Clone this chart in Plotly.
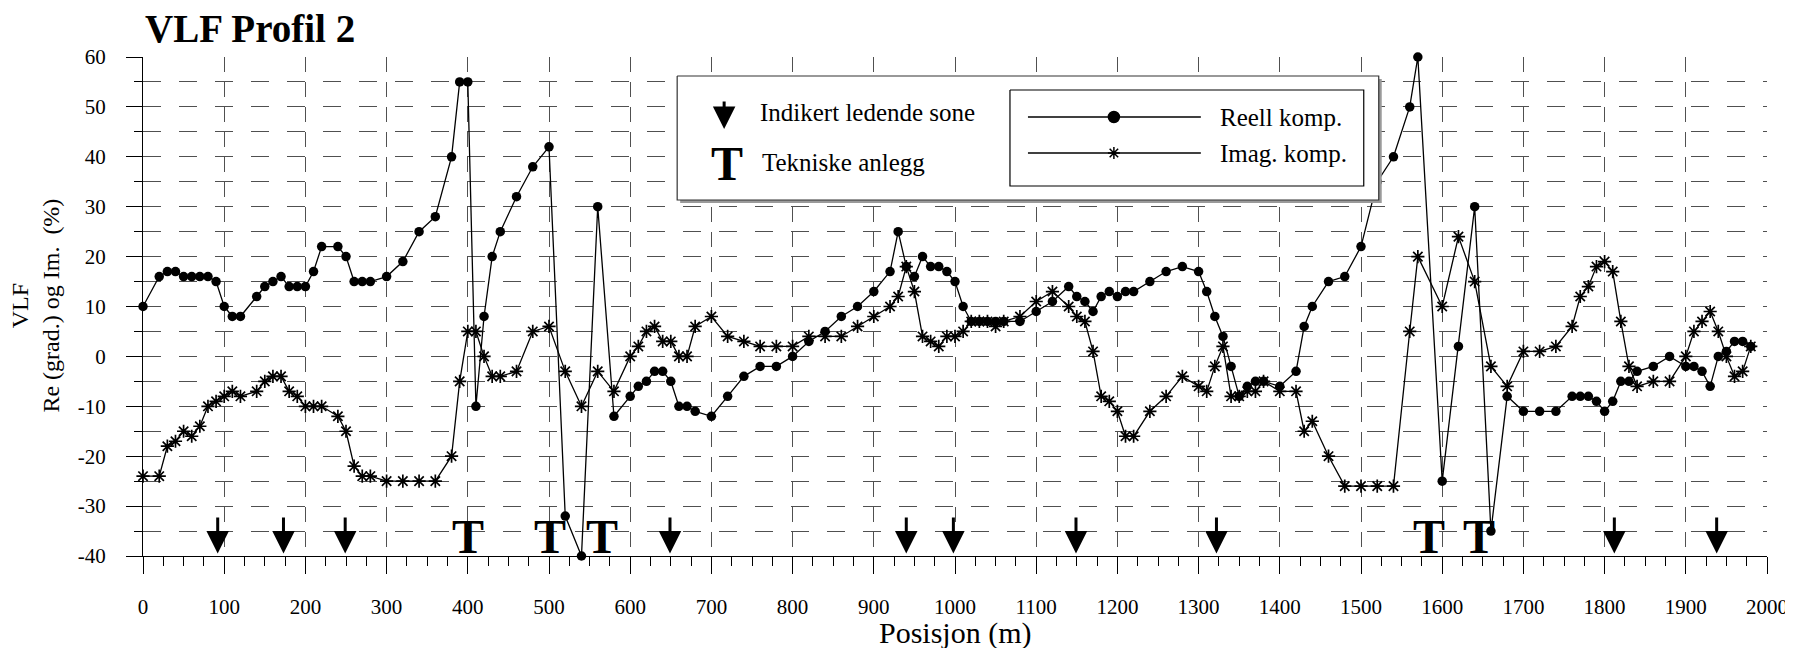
import plotly.graph_objects as go

# ---------------- data ----------------
reell_x = [0, 20, 30, 40, 50, 60, 70, 80, 90, 100, 110, 120, 140, 150, 160, 170, 180, 190, 200, 210,
           220, 240, 250, 260, 270, 280, 300, 320, 340, 360, 380, 390, 400, 410, 420, 430, 440, 460,
           480, 500, 520, 540, 560, 580, 600, 610, 620, 630, 640, 650, 660, 670, 680, 700, 720, 740,
           760, 780, 800, 820, 840, 860, 880, 900, 920, 930, 940, 950, 960, 970, 980, 990, 1000, 1010,
           1020, 1030, 1040, 1050, 1060, 1080, 1100, 1120, 1140, 1150, 1160, 1170, 1180, 1190, 1200,
           1210, 1220, 1240, 1260, 1280, 1300, 1310, 1320, 1330, 1340, 1350, 1360, 1370, 1380, 1400,
           1420, 1430, 1440, 1460, 1480, 1500, 1520, 1540, 1560, 1570, 1600, 1620, 1640, 1660, 1680,
           1700, 1720, 1740, 1760, 1770, 1780, 1790, 1800, 1810, 1820, 1830, 1840, 1860, 1880, 1900,
           1910, 1920, 1930, 1940, 1950, 1960, 1970, 1980]
reell_y = [10, 16, 17, 17, 16, 16, 16, 16, 15, 10, 8, 8, 12, 14, 15, 16, 14, 14, 14, 17,
           22, 22, 20, 15, 15, 15, 16, 19, 25, 28, 40, 55, 55, -10, 8, 20, 25, 32,
           38, 42, -32, -40, 30, -12, -8, -6, -5, -3, -3, -5, -10, -10, -11, -12, -8, -4,
           -2, -2, 0, 3, 5, 8, 10, 13, 17, 25, 18, 16, 20, 18, 18, 17, 15, 10,
           7, 7, 7, 7, 7, 7, 9, 11, 14, 12, 11, 9, 12, 13, 12,
           13, 13, 15, 17, 18, 17, 13, 8, 4, -2, -8, -6, -5, -5, -6,
           -3, 6, 10, 15, 16, 22, 35, 40, 50, 60, -25, 2, 30, -35, -8,
           -11, -11, -11, -8, -8, -8, -9, -11, -9, -5, -5, -3, -2, 0, -2,
           -2, -3, -6, 0, 1, 3, 3, 2]

imag_x = [0, 20, 30, 40, 50, 60, 70, 80, 90, 100, 110, 120, 140, 150, 160, 170, 180, 190, 200, 210,
          220, 240, 250, 260, 270, 280, 300, 320, 340, 360, 380, 390, 400, 410, 420, 430, 440, 460,
          480, 500, 520, 540, 560, 580, 600, 610, 620, 630, 640, 650, 660, 670, 680, 700, 720, 740,
          760, 780, 800, 820, 840, 860, 880, 900, 920, 930, 940, 950, 960, 970, 980, 990, 1000, 1010,
          1020, 1030, 1040, 1050, 1060, 1080, 1100, 1120, 1140, 1150, 1160, 1170, 1180, 1190, 1200,
          1210, 1220, 1240, 1260, 1280, 1300, 1310, 1320, 1330, 1340, 1350, 1360, 1370, 1380, 1400,
          1420, 1430, 1440, 1460, 1480, 1500, 1520, 1540, 1560, 1570, 1600, 1620, 1640, 1660, 1680,
          1700, 1720, 1740, 1760, 1770, 1780, 1790, 1800, 1810, 1820, 1830, 1840, 1860, 1880, 1900,
          1910, 1920, 1930, 1940, 1950, 1960, 1970, 1980]
imag_y = [-24, -24, -18, -17, -15, -16, -14, -10, -9, -8, -7, -8, -7, -5, -4, -4, -7, -8, -10, -10,
          -10, -12, -15, -22, -24, -24, -25, -25, -25, -25, -20, -5, 5, 5, 0, -4, -4, -3,
          5, 6, -3, -10, -3, -7, 0, 2, 5, 6, 3, 3, 0, 0, 6, 8, 4, 3,
          2, 2, 2, 4, 4, 4, 6, 8, 10, 12, 18, 13, 4, 3, 2, 4, 4, 5,
          7, 7, 7, 6, 7, 8, 11, 13, 10, 8, 7, 1, -8, -9, -11,
          -16, -16, -11, -8, -4, -6, -7, -2, 2, -8, -8, -7, -7, -5, -7,
          -7, -15, -13, -20, -26, -26, -26, -26, 5, 20, 10, 24, 15, -2, -6,
          1, 1, 2, 6, 12, 14, 18, 19, 17, 7, -2, -6, -5, -5, 0,
          5, 7, 9, 5, 0, -4, -3, 2]

arrow_x = [92, 173, 249, 649, 940, 998, 1149, 1322, 1812, 1938]   # "Indikert ledende sone"
tekn_x = [400, 501, 565, 1584, 1645]                              # "Tekniske anlegg"

y_ticks = [-40, -30, -20, -10, 0, 10, 20, 30, 40, 50, 60]
y_ticklabels = [str(v) for v in y_ticks]

title_text = "VLF Profil 2"
ytitle_lines = ["VLF", "Re (grad.) og Im.\u00a0\u00a0(%)"]
xtitle_text = "Posisjon (m)"
name_reell = "Reell komp."
name_imag = "Imag. komp."
leg_arrow = "Indikert ledende sone"
leg_t = "Tekniske anlegg"

# ---------------- layout constants ----------------
# page body adds an 8px offset; screenshot-pixel plot area is x 142.5..1767.5, y 57..556
OFF = 8
W, H = 1785, 640
PX0, PX1, PY0, PY1 = 142.5, 1767.5, 57, 556
L, R, T, B = PX0 - OFF, W + OFF - PX1, PY0 - OFF, H + OFF - PY1
FONT = "Liberation Serif"
GRID = "#505050"


def pxp(x, y):
    """screenshot pixel -> paper coords"""
    return (x - PX0) / (PX1 - PX0), (PY1 - y) / (PY1 - PY0)


fig = go.Figure()

fig.add_trace(go.Scatter(
    x=reell_x, y=reell_y, mode="lines+markers", name=name_reell,
    line=dict(color="black", width=1.3),
    marker=dict(symbol="circle", size=9.5, color="black"),
    cliponaxis=False, showlegend=False))
fig.add_trace(go.Scatter(
    x=imag_x, y=imag_y, mode="lines+markers", name=name_imag,
    line=dict(color="black", width=1.3),
    marker=dict(symbol="asterisk", size=11, color="black", line=dict(color="black", width=1.7)),
    cliponaxis=False, showlegend=False))


def rect(x0, y0, x1, y1):
    return [x0, x1, x1, x0, x0], [y0, y0, y1, y1, y0]


# ---- legend box drawn on a pixel overlay axis (x2/y2) ----
sx, sy = rect(680, 79, 1382, 203)
fig.add_trace(go.Scatter(x=sx, y=sy, xaxis="x2", yaxis="y2", mode="lines", fill="toself",
                         fillcolor="#9a9a9a", line=dict(width=0), hoverinfo="skip", showlegend=False))
ox, oy = rect(677, 76, 1379, 200)
fig.add_trace(go.Scatter(x=ox, y=oy, xaxis="x2", yaxis="y2", mode="lines", fill="toself",
                         fillcolor="white", line=dict(color="#333", width=1.2), hoverinfo="skip",
                         showlegend=False))
ix, iy = rect(1010, 90, 1364, 186)
fig.add_trace(go.Scatter(x=ix, y=iy, xaxis="x2", yaxis="y2", mode="lines", fill="toself",
                         fillcolor="white", line=dict(color="black", width=1.2), hoverinfo="skip",
                         showlegend=False))
for yy, sym, sz in [(117, "circle", 11), (153, "asterisk", 10)]:
    fig.add_trace(go.Scatter(x=[1028, 1201], y=[yy, yy], xaxis="x2", yaxis="y2", mode="lines",
                             line=dict(color="black", width=1.3), hoverinfo="skip", showlegend=False))
    fig.add_trace(go.Scatter(x=[1114], y=[yy], xaxis="x2", yaxis="y2", mode="markers",
                             marker=dict(symbol=sym, size=sz, color="black",
                                         line=dict(color="black", width=1.5)),
                             hoverinfo="skip", showlegend=False))

annotations = []
# data arrows
for ax_ in arrow_x:
    annotations.append(dict(x=ax_, y=-39.5, ax=ax_, ay=-32, xref="x", yref="y", axref="x", ayref="y",
                            text="", showarrow=True, arrowhead=2, arrowsize=1.5, arrowwidth=3,
                            arrowcolor="black", standoff=0))
# T markers
for tx in tekn_x:
    annotations.append(dict(x=tx, y=-36, xref="x", yref="y", text="<b>T</b>", showarrow=False,
                            font=dict(family=FONT, size=48, color="black"),
                            xanchor="center", yanchor="middle"))

# legend contents (pixel overlay coordinates)
annotations += [
    dict(x=724, y=129, ax=724, ay=100, xref="x2", yref="y2", axref="x2", ayref="y2", text="",
         showarrow=True, arrowhead=2, arrowsize=1.5, arrowwidth=3, arrowcolor="black", standoff=0),
    dict(x=758, y=112, xref="x2", yref="y2", text=leg_arrow, showarrow=False, xanchor="left",
         yanchor="middle", font=dict(family=FONT, size=25, color="black")),
    dict(x=727, y=163, xref="x2", yref="y2", text="<b>T</b>", showarrow=False, xanchor="center",
         yanchor="middle", font=dict(family=FONT, size=48, color="black")),
    dict(x=760, y=162, xref="x2", yref="y2", text=leg_t, showarrow=False, xanchor="left",
         yanchor="middle", font=dict(family=FONT, size=25, color="black")),
    dict(x=1218, y=117, xref="x2", yref="y2", text=name_reell, showarrow=False, xanchor="left",
         yanchor="middle", font=dict(family=FONT, size=25, color="black")),
    dict(x=1218, y=153, xref="x2", yref="y2", text=name_imag, showarrow=False, xanchor="left",
         yanchor="middle", font=dict(family=FONT, size=25, color="black")),
]

# titles (paper coords)
tx_, ty_ = pxp(142, 28)
annotations.append(dict(x=tx_, y=ty_, xref="paper", yref="paper", text="<b>" + title_text + "</b>",
                        showarrow=False, xanchor="left", yanchor="middle",
                        font=dict(family=FONT, size=39, color="black")))
tx_, ty_ = pxp(34, 306)
annotations.append(dict(x=tx_, y=ty_, xref="paper", yref="paper", text="<br>".join(ytitle_lines),
                        showarrow=False, textangle=-90, xanchor="center", yanchor="middle",
                        font=dict(family=FONT, size=24, color="black")))
tx_, ty_ = pxp(955, 633)
annotations.append(dict(x=tx_, y=ty_, xref="paper", yref="paper", text=xtitle_text,
                        showarrow=False, xanchor="center", yanchor="middle",
                        font=dict(family=FONT, size=30, color="black")))

fig.update_layout(
    width=W, height=H,
    margin=dict(l=L, r=R, t=T, b=B, pad=0, autoexpand=False),
    paper_bgcolor="white", plot_bgcolor="white",
    showlegend=False,
    font=dict(family=FONT, color="black"),
    annotations=annotations,
    xaxis=dict(range=[0, 2000], tick0=0, dtick=100, showgrid=True, gridcolor=GRID, gridwidth=1,
               griddash="15px,10px", zeroline=False, showline=True, linecolor="black", linewidth=1.3,
               ticks="outside", ticklen=17, tickwidth=1.3, tickcolor="black", automargin=False,
               tickfont=dict(family=FONT, size=21, color="black"), ticklabelstandoff=15,
               minor=dict(tick0=0, dtick=25, ticks="outside", ticklen=9, tickwidth=1.1,
                          tickcolor="black", showgrid=False),
               fixedrange=True),
    yaxis=dict(range=[-40, 60], tickmode="array", tickvals=y_ticks, ticktext=y_ticklabels,
               showgrid=True, gridcolor=GRID, gridwidth=1, automargin=False,
               griddash="18px,18px", zeroline=False, showline=True, linecolor="black", linewidth=1.3,
               ticks="outside", ticklen=16, tickwidth=1.3, tickcolor="black",
               tickfont=dict(family=FONT, size=21, color="black"), ticklabelstandoff=16,
               minor=dict(tickmode="linear", tick0=0, dtick=5, ticks="outside", ticklen=8,
                          tickwidth=1.1, tickcolor="black",
                          showgrid=True, gridcolor=GRID, gridwidth=1, griddash="18px,18px"),
               fixedrange=True),
    xaxis2=dict(overlaying="x", range=[PX0, PX1], visible=False, fixedrange=True),
    yaxis2=dict(overlaying="y", range=[PY1, PY0], visible=False, fixedrange=True),
)

fig.write_html("out.html")
